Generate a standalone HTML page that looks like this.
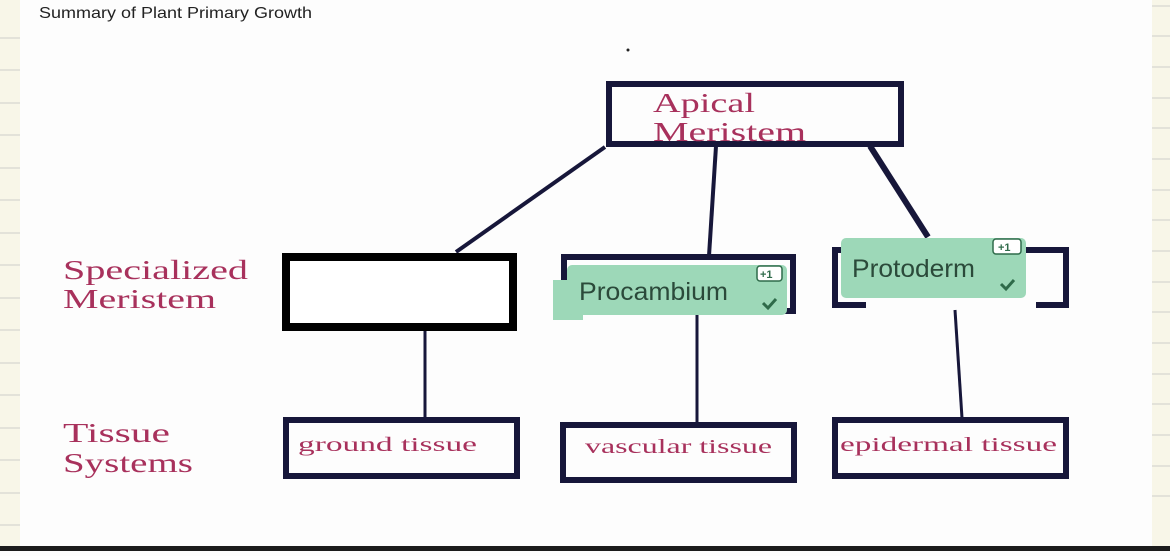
<!DOCTYPE html>
<html><head><style>
body{margin:0;width:1170px;height:551px;overflow:hidden;background:#fdfdfd;font-family:"Liberation Sans",sans-serif}
</style></head><body>
<svg width="1170" height="551" xmlns="http://www.w3.org/2000/svg">
<rect x="0" y="0" width="20" height="551" fill="#f8f6e8"/>
<rect x="1152" y="0" width="18" height="551" fill="#f8f6e8"/>
<g stroke="#dcdcd4" stroke-width="1.5">
<line x1="0" y1="38" x2="20" y2="38"/><line x1="0" y1="70" x2="20" y2="70"/><line x1="0" y1="103" x2="20" y2="103"/>
<line x1="0" y1="135" x2="20" y2="135"/><line x1="0" y1="168" x2="20" y2="168"/><line x1="0" y1="200" x2="20" y2="200"/>
<line x1="0" y1="233" x2="20" y2="233"/><line x1="0" y1="265" x2="20" y2="265"/><line x1="0" y1="298" x2="20" y2="298"/>
<line x1="0" y1="330" x2="20" y2="330"/><line x1="0" y1="363" x2="20" y2="363"/><line x1="0" y1="395" x2="20" y2="395"/>
<line x1="0" y1="428" x2="20" y2="428"/><line x1="0" y1="460" x2="20" y2="460"/><line x1="0" y1="493" x2="20" y2="493"/><line x1="0" y1="525" x2="20" y2="525"/>
<line x1="1152" y1="6" x2="1170" y2="6"/><line x1="1152" y1="36" x2="1170" y2="36"/><line x1="1152" y1="67" x2="1170" y2="67"/>
<line x1="1152" y1="98" x2="1170" y2="98"/><line x1="1152" y1="128" x2="1170" y2="128"/><line x1="1152" y1="159" x2="1170" y2="159"/>
<line x1="1152" y1="190" x2="1170" y2="190"/><line x1="1152" y1="220" x2="1170" y2="220"/><line x1="1152" y1="251" x2="1170" y2="251"/>
<line x1="1152" y1="282" x2="1170" y2="282"/><line x1="1152" y1="312" x2="1170" y2="312"/><line x1="1152" y1="343" x2="1170" y2="343"/>
<line x1="1152" y1="374" x2="1170" y2="374"/><line x1="1152" y1="404" x2="1170" y2="404"/><line x1="1152" y1="435" x2="1170" y2="435"/>
<line x1="1152" y1="466" x2="1170" y2="466"/><line x1="1152" y1="496" x2="1170" y2="496"/>
</g>
<rect x="0" y="546" width="1170" height="5" fill="#1c1c1c"/>
<text x="39" y="18" font-size="16" fill="#222" textLength="273" lengthAdjust="spacingAndGlyphs">Summary of Plant Primary Growth</text>
<circle cx="628" cy="50" r="1.5" fill="#222"/>
<g stroke="#17173a" fill="none">
<line x1="605" y1="147" x2="456" y2="252" stroke-width="4"/>
<line x1="716" y1="146" x2="709" y2="256" stroke-width="4"/>
<line x1="870" y1="146" x2="928" y2="237" stroke-width="6"/>
<line x1="425" y1="330" x2="425" y2="418" stroke-width="3"/>
<line x1="697" y1="313" x2="697" y2="423" stroke-width="3"/>
<line x1="955" y1="310" x2="962" y2="418" stroke-width="3"/>
<rect x="609" y="84" width="292" height="60" stroke-width="6"/>
<rect x="564" y="257" width="229" height="54" stroke-width="6"/>
<rect x="835" y="250" width="231" height="55" stroke-width="6"/>
<rect x="286" y="420" width="231" height="56" stroke-width="6"/>
<rect x="563" y="425" width="231" height="55" stroke-width="6"/>
<rect x="835" y="420" width="231" height="56" stroke-width="6"/>
</g>
<rect x="866" y="298" width="170" height="10" fill="#fdfdfd"/>
<rect x="286" y="257" width="227" height="70" stroke="#000" stroke-width="8" fill="#fff"/>
<g font-family="Liberation Serif,serif" fill="#a8315c" lengthAdjust="spacingAndGlyphs">
<text x="653" y="112" font-size="27" textLength="102" lengthAdjust="spacingAndGlyphs">Apical</text>
<text x="653" y="141" font-size="27" textLength="153" lengthAdjust="spacingAndGlyphs">Meristem</text>
<text x="63" y="279" font-size="27" textLength="185" lengthAdjust="spacingAndGlyphs">Specialized</text>
<text x="63" y="308" font-size="27" textLength="153" lengthAdjust="spacingAndGlyphs">Meristem</text>
<text x="63" y="442" font-size="27" textLength="107" lengthAdjust="spacingAndGlyphs">Tissue</text>
<text x="63" y="472" font-size="27" textLength="130" lengthAdjust="spacingAndGlyphs">Systems</text>
<text x="298" y="451" font-size="20" textLength="179" lengthAdjust="spacingAndGlyphs">ground tissue</text>
<text x="585" y="453" font-size="20" textLength="187" lengthAdjust="spacingAndGlyphs">vascular tissue</text>
<text x="840" y="451" font-size="20" textLength="217" lengthAdjust="spacingAndGlyphs">epidermal tissue</text>
</g>
<rect x="553" y="280" width="30" height="40" fill="#9dd8b8"/>
<rect x="567" y="265" width="220" height="50" rx="5" fill="#9dd8b8"/>
<rect x="841" y="238" width="185" height="60" rx="5" fill="#9dd8b8"/>
<text x="579" y="300" font-size="25" fill="#2b4a3a" textLength="149" lengthAdjust="spacingAndGlyphs">Procambium</text>
<text x="852" y="277" font-size="25" fill="#2b4a3a" textLength="123" lengthAdjust="spacingAndGlyphs">Protoderm</text>
<g fill="#fff" stroke="#2f6b4a" stroke-width="1.5">
<rect x="757" y="266" width="25" height="15" rx="3"/>
<rect x="993" y="239" width="28" height="15" rx="3"/>
</g>
<text x="760" y="278" font-size="11" font-weight="bold" fill="#2f6b4a">+1</text>
<text x="998" y="251" font-size="11" font-weight="bold" fill="#2f6b4a">+1</text>
<path d="M763 303 l5 5 l8 -9" stroke="#2f6b4a" stroke-width="3" fill="none"/>
<path d="M1001 284 l5 5 l8 -9" stroke="#2f6b4a" stroke-width="3" fill="none"/>
</svg>
</body></html>
